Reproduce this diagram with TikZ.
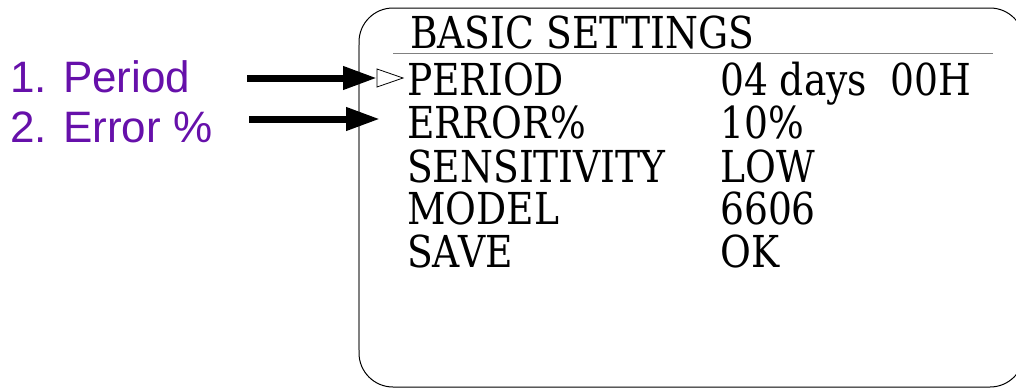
\documentclass[tikz,border=0pt]{standalone}
\usepackage{fontspec}
\setmainfont{DejaVu Serif Condensed}
\newfontfamily\labelfont{Liberation Sans}
\usetikzlibrary{arrows.meta}
\definecolor{labelpurple}{RGB}{102,16,170}

\begin{document}
\begin{tikzpicture}[x=1pt,y=-1pt,
    menu/.style={anchor=base west,inner sep=0pt,xscale=0.95,font=\fontsize{44}{44}\selectfont},
    lbl/.style={anchor=base west,inner sep=0pt,text=labelpurple,font=\labelfont\fontsize{44}{44}\selectfont},
    pointer/.style={line width=7pt,-{Triangle[length=34pt,width=22pt]}}]
    \useasboundingbox (0,0) rectangle (1016,388);

    % screen frame
    \draw[line width=1pt,rounded corners=34pt] (359,8) rectangle (1024,387);
    \draw[gray,line width=1.3pt] (359,45) -- (359,350);

    \node[menu] (title) at (410,48) {BASIC SETTINGS};
    \draw[gray,line width=1pt] (393,53) -- (993,53);

    \node[menu] (period) at (407,95) {PERIOD};
    \node[menu] (periodval) at (720,95) {04 days\ \ 00H};
    \node[menu] (error) at (407,138) {ERROR\%};
    \node[menu] (errorval) at (720,138) {10\%};
    \node[menu] (sens) at (407,182) {SENSITIVITY};
    \node[menu] (sensval) at (720,182) {LOW};
    \node[menu] (model) at (407,224) {MODEL};
    \node[menu] (modelval) at (720,224) {6606};
    \node[menu] (save) at (407,267) {SAVE};
    \node[menu] (saveval) at (720,267) {OK};

    % cursor
    \draw[fill=white,line width=0.8pt] (377,69) -- (403,78) -- (377,87) -- cycle;
    \coordinate (cursor) at (377,78);

    % labels and arrows
    \node[lbl] (lblperiod) at (10,92) {1. Period};
    \node[lbl] (lblerror) at (10,142) {2. Error \%};
    \coordinate (startperiod) at (247,78);
    \coordinate (starterror) at (249,119);
    \coordinate (enderror) at (380,119);
    \draw[pointer] (startperiod) -- (cursor);
    \draw[pointer] (starterror) -- (enderror);
\end{tikzpicture}
\end{document}
